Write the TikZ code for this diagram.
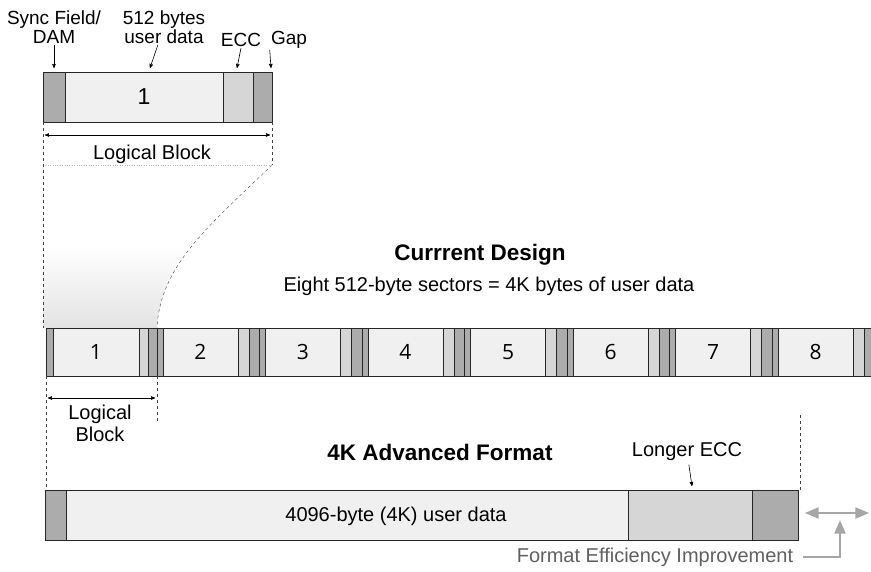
\documentclass[tikz,border=0pt]{standalone}
\usepackage{fontspec}
\setmainfont{Liberation Sans}
\newfontfamily\digitfont{Open Sans}
\usetikzlibrary{arrows, positioning}

\begin{document}
\begin{tikzpicture}[x=1pt,y=-1pt,->,>=stealth',semithick,
                    font=\fontsize{20}{20}\selectfont]
  \tikzstyle{sync}=[fill=gray!65,draw=black!85,-]
  \tikzstyle{data}=[fill=gray!12,draw=black!85,-]
  \tikzstyle{ecc}=[fill=gray!32,draw=black!85,-]
  \tikzstyle{guide}=[dashed,thin,black!75,-]
  \tikzstyle{label}=[align=center,inner sep=1pt,font=\fontsize{19}{19}\selectfont]
  \tikzstyle{num}=[font=\digitfont\fontsize{21}{21}\selectfont]
  \tikzstyle{title}=[font=\bfseries\fontsize{22.5}{24}\selectfont]
  \tikzstyle{wide}=[gray!70,line width=2.2pt,>=triangle 45]

  \useasboundingbox[fill=white] (0,0) rectangle (871,572);
  \clip (0,0) rectangle (871,572);

  % shaded fan from the single block down to sector 1
  \shade[top color=white,bottom color=gray!22,middle color=white,draw=none]
    (43,165) -- (272,165) .. controls (210,225) and (160,265) .. (157,328)
    -- (43,328) -- cycle;
  \draw[guide] (272,165) .. controls (210,225) and (160,265) .. (157,328);
  \draw[dotted,thin,gray!60,-] (43,165) -- (272,165);

  % single logical block
  \draw[sync] (43,72)  rectangle (65,122);
  \draw[data] (65,72)  rectangle (223,122);
  \draw[ecc]  (223,72) rectangle (253,122);
  \draw[sync] (253,72) rectangle (272,122);
  \node (b) at (144,97) {\fontsize{23}{23}\selectfont 1};

  \node[label] (syncl) at (54,27)  {Sync Field/\\DAM};
  \node[label] (datal) at (164,27) {512 bytes\\user data};
  \node[label] (eccl)  at (241,40) {ECC};
  \node[label] (gapl)  at (289,40) {Gap};
  \coordinate (syncp) at (54,68);
  \coordinate (datap) at (150,68);
  \coordinate (eccp)  at (237,68);
  \coordinate (gapp)  at (271,68);
  \path (syncl) edge (syncp)
        (datal) edge (datap)
        (eccl.south) edge (eccp)
        (gapl.south west) edge (gapp);

  \draw[guide] (43,122) -- (43,328);
  \draw[guide] (272,122) -- (272,165);
  \coordinate (la) at (43,135);
  \coordinate (lb) at (272,135);
  \draw[<->,shorten <=2pt,shorten >=2pt] (la) -- (lb);
  \node (lblock) at (152,154) {Logical Block};

  % current design: eight sectors
  \node[title] (cur) at (480,255) {Currrent Design};
  \node (eight) at (489,286) {Eight 512-byte sectors = 4K bytes of user data};

  \draw[sync] (46,328)  rectangle (53,376);
  \draw[data] (53,328)  rectangle (139,376);
  \draw[ecc]  (139,328) rectangle (148,376);
  \draw[sync] (148,328) rectangle (157,376);
  \node[num] (n1) at (96,352) {1};
  \foreach \i in {2,...,8}{
    \pgfmathsetmacro\s{157+(\i-2)*102.5}
    \draw[sync] (\s,328)      rectangle ({\s+6},376);
    \draw[data] ({\s+6},328)  rectangle ({\s+81},376);
    \draw[ecc]  ({\s+81},328) rectangle ({\s+92},376);
    \draw[sync] ({\s+92},328) rectangle ({\s+102.5},376);
    \node[num] (n\i) at ({\s+43.5},352) {\i};
  }

  \draw[guide] (46,376) -- (46,490);
  \draw[guide] (157,376) -- (157,422);
  \coordinate (sa) at (46,398);
  \coordinate (sb) at (157,398);
  \draw[<->,shorten <=2pt,shorten >=2pt] (sa) -- (sb);
  \node[label,font=\fontsize{20}{22}\selectfont] (sblock) at (100,423) {Logical\\Block};

  % 4K advanced format
  \node[title] (adv) at (440,452) {4K Advanced Format};
  \node (longl) at (687,452) {Longer ECC};
  \coordinate (longp) at (692,486);
  \path (longl) edge (longp);
  \draw[guide] (800,415) -- (800,490);

  \draw[sync] (45,490)  rectangle (66,540);
  \draw[data] (66,490)  rectangle (628,540);
  \draw[ecc]  (628,490) rectangle (752,540);
  \draw[sync] (752,490) rectangle (798,540);
  \node (big) at (396,516) {4096-byte (4K) user data};

  % efficiency gain
  \coordinate (ga) at (805,513);
  \coordinate (gb) at (869,513);
  \draw[wide,<->] (ga) -- (gb);
  \node[gray!75!black] (eff) at (655,557) {Format Efficiency Improvement};
  \coordinate (corner) at (840,557);
  \coordinate (up) at (840,520);
  \draw[wide] (eff.east) ++(6pt,0) -- (corner) -- (up);
\end{tikzpicture}
\end{document}
